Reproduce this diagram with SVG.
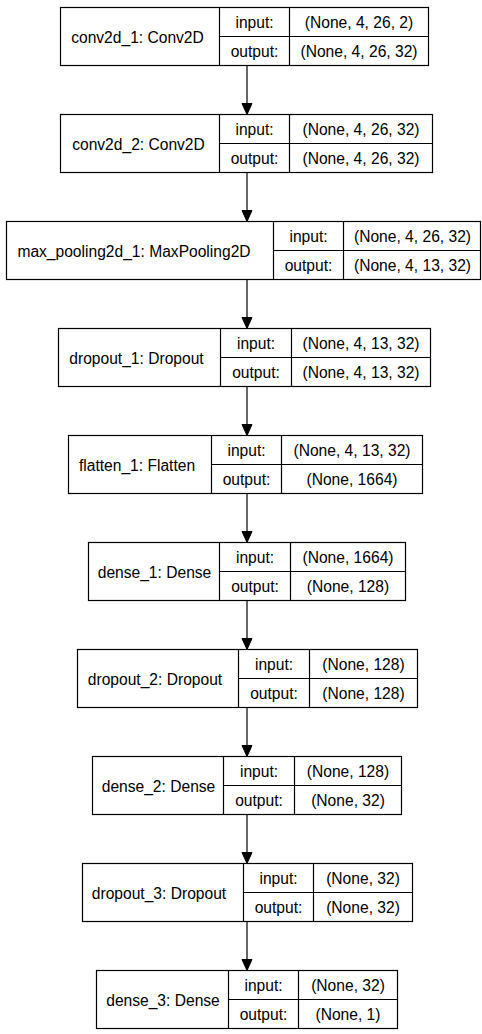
<svg xmlns="http://www.w3.org/2000/svg" width="482" height="1034" viewBox="0 0 482 1034">
<style>
rect.b{fill:#fff;stroke:#000;stroke-width:1.2}
line.s{stroke:#000;stroke-width:1.2}
text{font-family:"Liberation Sans",Arial,sans-serif;font-size:15.6px;fill:#000;text-anchor:middle}
.c line{stroke:#000;stroke-width:1.2}
.c polygon{fill:#000;stroke:#000;stroke-width:1}
</style>
<rect width="482" height="1034" fill="#fff"/>
<g class="c" id="connectors">
<line x1="247" y1="65.5" x2="247" y2="104"/><polygon points="242,103.5 252,103.5 247,114.5"/>
<line x1="247" y1="172.5" x2="247" y2="211"/><polygon points="242,210.5 252,210.5 247,221.5"/>
<line x1="247" y1="279.5" x2="247" y2="318"/><polygon points="242,317.5 252,317.5 247,328.5"/>
<line x1="247" y1="386.5" x2="247" y2="425"/><polygon points="242,424.5 252,424.5 247,435.5"/>
<line x1="247" y1="493.5" x2="247" y2="532"/><polygon points="242,531.5 252,531.5 247,542.5"/>
<line x1="247" y1="600.5" x2="247" y2="639"/><polygon points="242,638.5 252,638.5 247,649.5"/>
<line x1="247" y1="707.5" x2="247" y2="746"/><polygon points="242,745.5 252,745.5 247,756.5"/>
<line x1="247" y1="814.5" x2="247" y2="853"/><polygon points="242,852.5 252,852.5 247,863.5"/>
<line x1="247" y1="921.5" x2="247" y2="960"/><polygon points="242,959.5 252,959.5 247,970.5"/>
</g>
<g id="conv2d_1">
<rect class="b" x="60.5" y="7.5" width="368" height="58"/>
<line class="s" x1="219.5" y1="7.5" x2="219.5" y2="65.5"/><line class="s" x1="289.5" y1="7.5" x2="289.5" y2="65.5"/><line class="s" x1="219.5" y1="36.5" x2="428.5" y2="36.5"/>
<text x="137.5" y="42.5">conv2d_1: Conv2D</text><text x="254.5" y="27.5">input:</text><text x="254.5" y="57">output:</text>
<text x="359" y="27.5">(None, 4, 26, 2)</text><text x="359" y="57">(None, 4, 26, 32)</text>
</g>
<g id="conv2d_2">
<rect class="b" x="60.5" y="114.5" width="372" height="58"/>
<line class="s" x1="219.5" y1="114.5" x2="219.5" y2="172.5"/><line class="s" x1="289.5" y1="114.5" x2="289.5" y2="172.5"/><line class="s" x1="219.5" y1="143.5" x2="432.5" y2="143.5"/>
<text x="138.5" y="149.5">conv2d_2: Conv2D</text><text x="254.5" y="134.5">input:</text><text x="254.5" y="164">output:</text>
<text x="361" y="134.5">(None, 4, 26, 32)</text><text x="361" y="164">(None, 4, 26, 32)</text>
</g>
<g id="max_pooling2d_1">
<rect class="b" x="6.5" y="221.5" width="474" height="58"/>
<line class="s" x1="273.5" y1="221.5" x2="273.5" y2="279.5"/><line class="s" x1="343.5" y1="221.5" x2="343.5" y2="279.5"/><line class="s" x1="273.5" y1="250.5" x2="480.5" y2="250.5"/>
<text x="134" y="256.5">max_pooling2d_1: MaxPooling2D</text><text x="308.5" y="241.5">input:</text><text x="308.5" y="271">output:</text>
<text x="412.5" y="241.5">(None, 4, 26, 32)</text><text x="412.5" y="271">(None, 4, 13, 32)</text>
</g>
<g id="dropout_1">
<rect class="b" x="58.5" y="328.5" width="372" height="58"/>
<line class="s" x1="220.5" y1="328.5" x2="220.5" y2="386.5"/><line class="s" x1="291.5" y1="328.5" x2="291.5" y2="386.5"/><line class="s" x1="220.5" y1="357.5" x2="430.5" y2="357.5"/>
<text x="136.5" y="363.5">dropout_1: Dropout</text><text x="256" y="348.5">input:</text><text x="256" y="378">output:</text>
<text x="361" y="348.5">(None, 4, 13, 32)</text><text x="361" y="378">(None, 4, 13, 32)</text>
</g>
<g id="flatten_1">
<rect class="b" x="68.5" y="435.5" width="354" height="58"/>
<line class="s" x1="211.5" y1="435.5" x2="211.5" y2="493.5"/><line class="s" x1="281.5" y1="435.5" x2="281.5" y2="493.5"/><line class="s" x1="211.5" y1="464.5" x2="422.5" y2="464.5"/>
<text x="137" y="470.5">flatten_1: Flatten</text><text x="246.5" y="455.5">input:</text><text x="246.5" y="485">output:</text>
<text x="352" y="455.5">(None, 4, 13, 32)</text><text x="352" y="485">(None, 1664)</text>
</g>
<g id="dense_1">
<rect class="b" x="88.5" y="542.5" width="317" height="58"/>
<line class="s" x1="219.5" y1="542.5" x2="219.5" y2="600.5"/><line class="s" x1="290.5" y1="542.5" x2="290.5" y2="600.5"/><line class="s" x1="219.5" y1="571.5" x2="405.5" y2="571.5"/>
<text x="154.5" y="577.5">dense_1: Dense</text><text x="255" y="562.5">input:</text><text x="255" y="592">output:</text>
<text x="348" y="562.5">(None, 1664)</text><text x="348" y="592">(None, 128)</text>
</g>
<g id="dropout_2">
<rect class="b" x="77.5" y="649.5" width="340" height="58"/>
<line class="s" x1="238.5" y1="649.5" x2="238.5" y2="707.5"/><line class="s" x1="309.5" y1="649.5" x2="309.5" y2="707.5"/><line class="s" x1="238.5" y1="678.5" x2="417.5" y2="678.5"/>
<text x="155" y="684.5">dropout_2: Dropout</text><text x="274" y="669.5">input:</text><text x="274" y="699">output:</text>
<text x="363.5" y="669.5">(None, 128)</text><text x="363.5" y="699">(None, 128)</text>
</g>
<g id="dense_2">
<rect class="b" x="92.5" y="756.5" width="309" height="58"/>
<line class="s" x1="223.5" y1="756.5" x2="223.5" y2="814.5"/><line class="s" x1="294.5" y1="756.5" x2="294.5" y2="814.5"/><line class="s" x1="223.5" y1="785.5" x2="401.5" y2="785.5"/>
<text x="158.5" y="791.5">dense_2: Dense</text><text x="259" y="776.5">input:</text><text x="259" y="806">output:</text>
<text x="348" y="776.5">(None, 128)</text><text x="348" y="806">(None, 32)</text>
</g>
<g id="dropout_3">
<rect class="b" x="82.5" y="863.5" width="330" height="58"/>
<line class="s" x1="243.5" y1="863.5" x2="243.5" y2="921.5"/><line class="s" x1="313.5" y1="863.5" x2="313.5" y2="921.5"/><line class="s" x1="243.5" y1="892.5" x2="412.5" y2="892.5"/>
<text x="159" y="898.5">dropout_3: Dropout</text><text x="278.5" y="883.5">input:</text><text x="278.5" y="913">output:</text>
<text x="363" y="883.5">(None, 32)</text><text x="363" y="913">(None, 32)</text>
</g>
<g id="dense_3">
<rect class="b" x="96.5" y="970.5" width="301" height="58"/>
<line class="s" x1="228.5" y1="970.5" x2="228.5" y2="1028.5"/><line class="s" x1="298.5" y1="970.5" x2="298.5" y2="1028.5"/><line class="s" x1="228.5" y1="999.5" x2="397.5" y2="999.5"/>
<text x="163" y="1005.5">dense_3: Dense</text><text x="263.5" y="990.5">input:</text><text x="263.5" y="1020">output:</text>
<text x="348" y="990.5">(None, 32)</text><text x="348" y="1020">(None, 1)</text>
</g>
</svg>
